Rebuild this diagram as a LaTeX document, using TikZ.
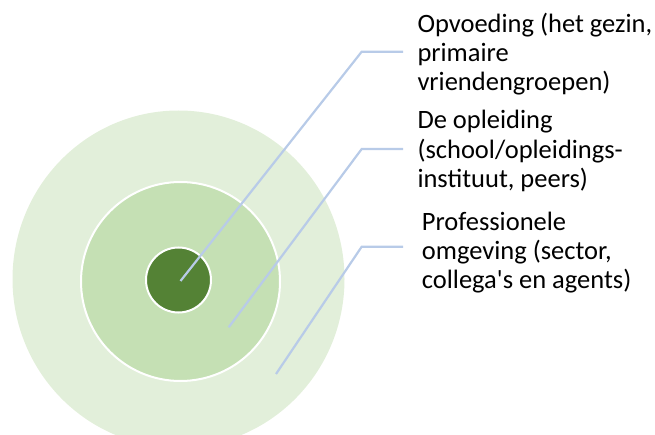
\documentclass[tikz,border=0pt]{standalone}
\usepackage{fontspec}
\setmainfont{Carlito}
\definecolor{outerg}{HTML}{E2EFDA}
\definecolor{midg}{HTML}{C5E0B4}
\definecolor{innerg}{HTML}{548235}
\definecolor{leadc}{HTML}{B8CBE8}
\tikzset{
  ring/.style={circle, draw=white, line width=2pt, inner sep=0pt, outer sep=0pt},
  leader/.style={draw=leadc, line width=2.2pt},
  lbl/.style={anchor=base west, align=left, inner sep=0pt, font=\fontsize{26.5}{29.3}\selectfont, text=black}
}
\begin{document}
\begin{tikzpicture}[x=1pt,y=-1pt]
\useasboundingbox (0,0) rectangle (655,435);
\begin{scope}
\clip (0,0) rectangle (655,435);
\fill[outerg] (178.5,279) ellipse [x radius=166, y radius=168.5];
\end{scope}
\node[ring, fill=midg, minimum size=199pt] (mid) at (180.5,281.5) {};
\node[ring, fill=innerg, minimum size=65pt] (inner) at (178.5,280) {};
\coordinate (s1) at (180.5,281);
\coordinate (b1) at (361.7,51.7);
\coordinate (e1) at (403,51.7);
\coordinate (s2) at (228.7,327.3);
\coordinate (b2) at (361.7,149);
\coordinate (e2) at (403,149);
\coordinate (s3) at (276,374);
\coordinate (b3) at (361.7,246.7);
\coordinate (e3) at (403,246.7);
\draw[leader] (s1) -- (b1) -- (e1);
\draw[leader] (s2) -- (b2) -- (e2);
\draw[leader] (s3) -- (b3) -- (e3);
\node[lbl] (t1) at (417.3,91) {Opvoeding (het gezin,\\primaire\\vriendengroepen)};
\node[lbl] (t2) at (417.3,187.5) {De opleiding\\(school/opleidings-\\instituut, peers)};
\node[lbl] (t3) at (421.7,289) {Professionele\\omgeving (sector,\\collega\textquotesingle s en agents)};
\end{tikzpicture}
\end{document}
